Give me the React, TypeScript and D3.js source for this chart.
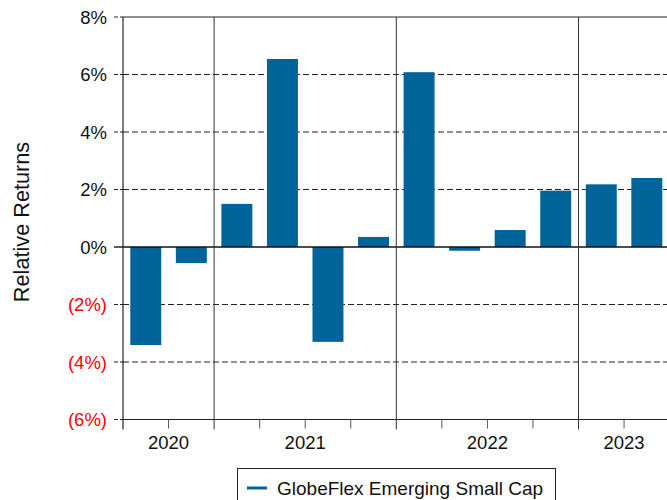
import React from "react";
import * as d3 from "d3";

const quarters = [
  "Q3 2020", "Q4 2020",
  "Q1 2021", "Q2 2021", "Q3 2021", "Q4 2021",
  "Q1 2022", "Q2 2022", "Q3 2022", "Q4 2022",
  "Q1 2023", "Q2 2023",
];
const values = [-3.41, -0.56, 1.5, 6.54, -3.3, 0.35, 6.08, -0.13, 0.59, 1.96, 2.18, 2.4];
const yTicks = [8, 6, 4, 2, 0, -2, -4, -6];
const seriesName = "GlobeFlex Emerging Small Cap";
const yTitle = "Relative Returns";

const W = 667;
const H = 500;
const left = 123;
const top = 17;
const bottom = 419.5;
const slot = 45.55;
const right = left + slot * quarters.length;
const barColor = "#00639a";
const font = "Liberation Sans, Arial, sans-serif";

export default function App() {
  const x = d3.scaleBand<string>().domain(quarters).range([left, right]).paddingInner(0.32).paddingOuter(0.16);
  const y = d3.scaleLinear().domain([-6, 8]).range([bottom, top]);
  const step = (right - left) / quarters.length;

  const yearOf = (q: string) => q.split(" ")[1];
  const years = Array.from(new Set(quarters.map(yearOf)));
  const yearGroups = years.map((yr) => {
    const idx = quarters.map((q, i) => (yearOf(q) === yr ? i : -1)).filter((i) => i >= 0);
    const start = left + idx[0] * step;
    const end = left + (idx[idx.length - 1] + 1) * step;
    return { yr, start, end, mid: (start + end) / 2 };
  });
  const separators = yearGroups.slice(1).map((g) => g.start);
  const minorTicks = d3.range(1, quarters.length).map((i) => left + i * step).filter(
    (v) => !separators.some((s) => Math.abs(s - v) < 1)
  );
  const fmt = (v: number) => (v < 0 ? `(${Math.abs(v)}%)` : `${v}%`);

  return (
    <div style={{ position: "fixed", left: 0, top: 0 }}>
      <svg width={W} height={H} style={{ display: "block", fontFamily: font }}>
        <rect x={0} y={0} width={W} height={H} fill="#fff" />
        {/* gridlines */}
        {yTicks.filter((t) => t !== 0 && t !== 8 && t !== -6).map((t) => (
          <line key={"g" + t} x1={left} x2={right} y1={y(t)} y2={y(t)} stroke="#222" strokeWidth={1} strokeDasharray="6,3" />
        ))}
        {/* y ticks */}
        {yTicks.map((t) => (
          <g key={"t" + t}>
            <line x1={left - 9} x2={left} y1={y(t)} y2={y(t)} stroke="#222" strokeWidth={t === 0 ? 1.5 : 1} strokeDasharray={t === 0 ? undefined : "4,2"} />
            <text x={107} y={y(t)} dy="0.36em" textAnchor="end" fontSize={18.5} fill={t < 0 ? "#ff0000" : "#111"}>
              {fmt(t)}
            </text>
          </g>
        ))}
        {/* bars */}
        {quarters.map((q, i) => {
          const v = values[i];
          return (
            <rect key={q} x={x(q)} width={x.bandwidth()} y={y(Math.max(0, v))} height={Math.abs(y(v) - y(0))} fill={barColor} />
          );
        })}
        {/* zero line */}
        <line x1={left} x2={right} y1={y(0)} y2={y(0)} stroke="#111" strokeWidth={1.5} />
        {/* frame */}
        <line x1={left} x2={right} y1={top} y2={top} stroke="#222" strokeWidth={1} />
        <line x1={left} x2={right} y1={bottom} y2={bottom} stroke="#222" strokeWidth={1} />
        <line x1={left} x2={left} y1={top} y2={bottom + 10} stroke="#222" strokeWidth={1.2} />
        {separators.map((s) => (
          <line key={"s" + s} x1={s} x2={s} y1={top} y2={bottom + 10} stroke="#333" strokeWidth={1} />
        ))}
        {minorTicks.map((m) => (
          <line key={"m" + m} x1={m} x2={m} y1={bottom} y2={bottom + 9} stroke="#555" strokeWidth={1} />
        ))}
        {yearGroups.map((g) => (
          <text key={g.yr} x={g.mid} y={449} textAnchor="middle" fontSize={18.5} fill="#111">
            {g.yr}
          </text>
        ))}
        {/* y title */}
        <text transform={`translate(29,${222}) rotate(-90)`} textAnchor="middle" fontSize={21.7} fill="#111">
          {yTitle}
        </text>
        {/* legend */}
        <rect x={237.5} y={468.5} width={318} height={40} fill="#fff" stroke="#222" strokeWidth={1} />
        <line x1={247} x2={267} y1={488} y2={488} stroke={barColor} strokeWidth={3} />
        <text x={277} y={495} fontSize={19} fill="#111">
          {seriesName}
        </text>
      </svg>
    </div>
  );
}
